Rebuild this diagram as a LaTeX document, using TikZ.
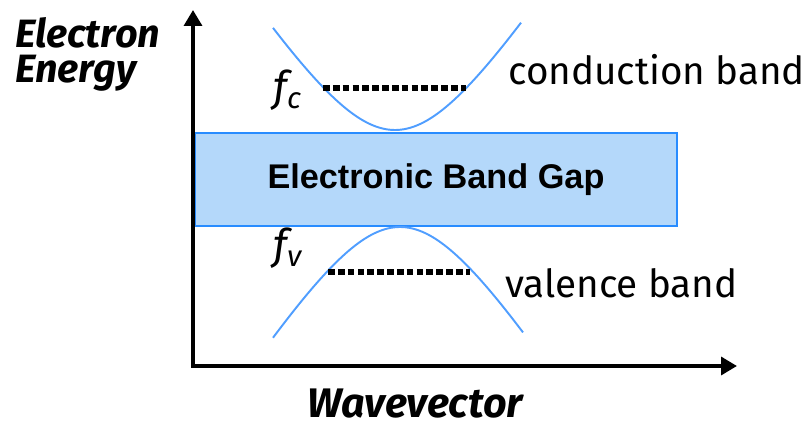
\documentclass[tikz,border=0pt]{standalone}
\usepackage{fontspec}
\setmainfont{Fira Sans}
\newfontfamily\arialfont{Liberation Sans}
\usetikzlibrary{arrows.meta, positioning, calc}

\definecolor{bandblue}{RGB}{80,158,255}
\definecolor{gapfill}{RGB}{180,216,250}
\definecolor{gapedge}{RGB}{40,140,255}

\begin{document}
\begin{tikzpicture}[
    x=0.02cm, y=-0.02cm,
    axis line/.style={line width=2.4pt, line join=miter, {Triangle[length=9pt, width=10pt]}-{Triangle[length=9pt, width=10pt]}},
    band/.style={draw=bandblue, line width=1.1pt},
    fermi/.style={line width=3pt, dash pattern=on 3.8pt off 1.8pt},
    gap/.style={draw=gapedge, line width=1.1pt, fill=gapfill, minimum width=9.64cm, minimum height=1.86cm, inner sep=0pt, font=\arialfont\bfseries\fontsize{19.5}{22}\selectfont},
    axis text/.style={font=\bfseries\itshape\fontsize{22.5}{20.4}\selectfont},
    band text/.style={font=\fontsize{22}{26}\selectfont},
    level text/.style={font=\itshape\fontsize{24}{26}\selectfont}
]
\useasboundingbox (0,0) rectangle (810,428);

% ====================
% Gap e Bande
% ====================
\node[gap] (GAP) at (436,179.5) {Electronic Band Gap};

% Banda di conduzione
\draw[band] plot[domain=-12.2:12.6, samples=90] ({395+10*\x},{130-15.5*(sqrt(64+\x*\x)-8)});
% Banda di valenza
\draw[band] plot[domain=-12.7:12.3, samples=90] ({400+10*\x},{227+15.8*(sqrt(64+\x*\x)-8)});

% Livelli
\coordinate (FC1) at (323,88);
\coordinate (FC2) at (466,88);
\coordinate (FV1) at (328,272);
\coordinate (FV2) at (470,272);
\draw[fermi] (FC1) -- (FC2);
\draw[fermi] (FV1) -- (FV2);

\node[level text, anchor=base west, inner sep=0pt] (FC) at (273,102) {f\textsubscript{c}};
\node[level text, anchor=base west, inner sep=0pt] (FV) at (273,260) {f\textsubscript{v}};

% ====================
% Assi
% ====================
\coordinate (O) at (193,366);
\coordinate (YT) at (193,10);
\coordinate (XT) at (737,366);
\draw[axis line] (YT) -- (O) -- (XT);

% Etichette
\node[axis text, anchor=base west, inner sep=0pt, align=left] (YL) at (15,83) {Electron\\Energy};
\node[axis text, anchor=base, inner sep=0pt, font=\bfseries\itshape\fontsize{23.5}{24}\selectfont] (XL) at (415,417) {Wavevector};
\node[band text, anchor=base west, inner sep=0pt] (CB) at (508,85) {conduction band};
\node[band text, anchor=base west, inner sep=0pt] (VB) at (505,297) {valence band};

\end{tikzpicture}
\end{document}
